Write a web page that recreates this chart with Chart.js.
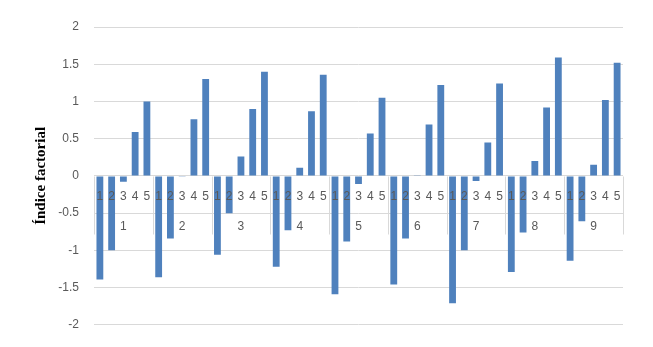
<!DOCTYPE html>
<html>
<head>
<meta charset="utf-8">
<script src="https://cdn.jsdelivr.net/npm/chart.js@4"></script>
<style>
  html, body { margin: 0; padding: 0; background: #fff; }
  #wrap { width: 653px; height: 347px; }
</style>
</head>
<body>
<div id="wrap"><canvas id="chart"></canvas></div>
<script>
// groups (factor) and sub-categories (1-5 in each group)
const groups = ["1", "2", "3", "4", "5", "6", "7", "8", "9"];
const subLabels = ["1", "2", "3", "4", "5"];

// values, group by group
const g1 = [-1.39, -1.00, -0.08, 0.59, 1.00];
const g2 = [-1.36, -0.84, -0.01, 0.76, 1.30];
const g3 = [-1.06, -0.50, 0.26, 0.90, 1.40];
const g4 = [-1.22, -0.73, 0.11, 0.87, 1.36];
const g5 = [-1.59, -0.88, -0.11, 0.57, 1.05];
const g6 = [-1.46, -0.84, 0.01, 0.69, 1.22];
const g7 = [-1.71, -1.00, -0.07, 0.45, 1.24];
const g8 = [-1.29, -0.76, 0.20, 0.92, 1.59];
const g9 = [-1.14, -0.61, 0.15, 1.02, 1.52];

const yTicks = [-2, -1.5, -1, -0.5, 0, 0.5, 1, 1.5, 2];

const values = [].concat(g1, g2, g3, g4, g5, g6, g7, g8, g9);
const labels = [];
groups.forEach(g => subLabels.forEach(s => labels.push(g + "-" + s)));

// ---------- multi level category axis drawn at y = 0 ----------
const multiAxis = {
  id: "multiAxis",
  afterDatasetsDraw(chart) {
    const ctx = chart.ctx;
    const x = chart.scales.x, y = chart.scales.y;
    const y0 = Math.round(y.getPixelForValue(0)) + 0.5;
    const step = x.getPixelForValue(1) - x.getPixelForValue(0);
    ctx.save();
    ctx.strokeStyle = "#d9d9d9";
    ctx.lineWidth = 1;
    // separators between groups
    for (let g = 0; g <= groups.length; g++) {
      const px = Math.round(x.getPixelForValue(g * subLabels.length) - step / 2) + 0.5;
      ctx.beginPath();
      ctx.moveTo(px, y0);
      ctx.lineTo(px, y0 + 58);
      ctx.stroke();
    }
    ctx.fillStyle = "#595959";
    ctx.textAlign = "center";
    ctx.textBaseline = "middle";
    ctx.font = "12px 'Liberation Sans', Arial, sans-serif";
    labels.forEach((l, i) => {
      ctx.fillText(subLabels[i % subLabels.length], x.getPixelForValue(i), y0 + 20);
    });
    groups.forEach((g, i) => {
      const mid = (x.getPixelForValue(i * 5) + x.getPixelForValue(i * 5 + 4)) / 2;
      ctx.fillText(g, mid, y0 + 50);
    });
    ctx.restore();
  }
};

new Chart(document.getElementById("chart"), {
  type: "bar",
  data: {
    labels: labels,
    datasets: [{
      data: values,
      backgroundColor: "#4f81bd",
      borderWidth: 0,
      barPercentage: 0.58,
      categoryPercentage: 1
    }]
  },
  options: {
    responsive: true,
    maintainAspectRatio: false,
    animation: false,
    devicePixelRatio: 1,
    layout: { padding: { top: 27, right: 30, bottom: 20, left: 0 } },
    plugins: { legend: { display: false }, tooltip: { enabled: false } },
    scales: {
      x: { display: false, offset: true },
      y: {
        min: -2,
        max: 2,
        afterFit(scale) { scale.width = 94; },
        afterBuildTicks(scale) { scale.ticks = yTicks.map(v => ({ value: v })); },
        border: { display: false },
        grid: { color: "#d9d9d9", drawTicks: false },
        ticks: {
          padding: 15,
          color: "#595959",
          font: { family: "'Liberation Sans', Arial, sans-serif", size: 12 },
          callback: v => String(v)
        },
        title: {
          display: true,
          text: "Índice factorial",
          color: "#000",
          padding: { top: 32, bottom: 0 },
          font: { family: "'Liberation Serif', 'Times New Roman', serif", size: 15, weight: "bold" }
        }
      }
    }
  },
  plugins: [multiAxis]
});
</script>
</body>
</html>
